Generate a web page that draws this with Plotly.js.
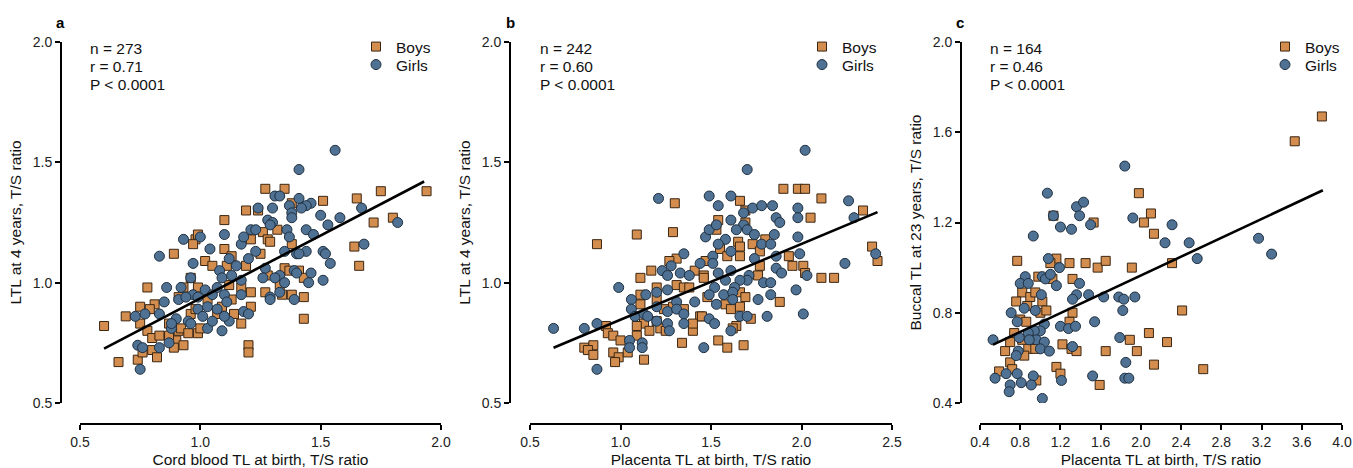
<!DOCTYPE html>
<html>
<head>
<meta charset="utf-8">
<script src="https://cdn.plot.ly/plotly-3.0.1.min.js"></script>
<style>html,body{margin:0;padding:0;background:#fff}#chart{width:1353px;height:468px}</style>
</head>
<body>
<div id="chart"></div>
<script>
// ---------- Panel a: Cord blood TL at birth vs LTL at 4 years ----------
const aBoysX = [0.60,0.66,0.69,0.74,0.75,0.75,0.78,0.81,0.79,0.78,0.80,0.80,0.82,0.76,0.83,0.89,0.90,0.93,0.91,0.87,0.92,0.95,0.99,1.00,0.96,0.98,0.91,0.93,0.96,0.98,0.99,0.97,1.10,1.02,1.05,1.07,1.10,1.11,1.13,1.12,1.13,1.14,1.17,1.19,1.24,1.27,1.19,1.21,1.26,1.21,1.21,1.20,1.20,1.27,1.28,0.87,0.99,1.03,1.09,1.17,0.89,
  1.35,1.38,1.51,1.65,1.75,1.94,1.80,1.72,1.32,1.29,1.38,1.25,1.64,1.66,1.35,1.37,1.41,1.43,1.28,1.33,1.34,1.38,1.43,1.43];
const aBoysY = [0.82,0.67,0.86,0.68,0.90,0.83,0.98,0.91,0.89,0.80,0.77,0.72,0.69,0.71,0.78,1.12,0.76,0.74,0.80,0.83,0.81,0.79,0.79,0.81,0.87,0.89,0.94,0.98,1.02,1.18,1.20,1.16,1.26,1.09,1.07,0.87,1.14,1.07,1.11,0.99,0.93,0.87,0.83,1.30,1.30,1.39,1.07,1.18,1.21,0.96,0.90,0.74,0.71,0.96,1.18,0.78,0.98,0.93,0.90,0.98,0.73,
  1.39,1.33,1.34,1.35,1.38,1.38,1.27,1.25,1.22,1.17,1.16,1.12,1.15,1.07,1.06,1.05,1.05,1.02,1.03,0.99,0.95,0.95,0.94,0.85];
const aGirlsX = [0.75,0.74,0.76,0.73,0.77,0.83,0.85,0.83,0.83,0.87,0.88,0.86,0.90,0.92,0.91,0.93,0.95,0.96,0.97,0.96,0.97,0.99,1.01,1.00,1.02,1.03,1.03,1.04,1.05,1.05,1.07,1.09,1.10,1.08,1.09,1.10,1.11,1.12,1.10,1.12,1.13,1.15,1.17,1.18,1.17,1.17,1.18,1.20,1.20,1.21,1.23,1.23,1.24,1.27,1.26,1.29,1.28,0.99,0.94,0.88,1.07,
  1.56,1.41,1.31,1.33,1.30,1.41,1.46,1.44,1.42,1.37,1.38,1.38,1.30,1.29,1.50,1.58,1.53,1.67,1.36,1.44,1.37,1.47,1.82,1.68,1.35,1.44,1.40,1.41,1.51,1.52,1.54,1.39,1.40,1.46,1.33,1.31,1.35,1.45,1.51,1.33,1.29,1.39];
const aGirlsY = [0.64,0.74,0.73,0.86,0.87,1.11,0.92,0.87,0.73,0.75,0.81,0.98,0.85,0.98,0.93,1.18,0.84,0.83,1.08,1.02,0.95,0.89,0.86,1.19,0.97,0.90,0.81,1.14,0.84,0.95,0.98,0.80,1.20,1.05,1.02,0.95,0.92,0.84,0.86,1.10,1.03,1.07,1.16,1.19,1.01,0.95,0.88,1.10,0.87,1.22,1.22,1.13,1.31,1.06,1.02,0.94,1.26,0.94,0.94,0.83,0.89,
  1.55,1.47,1.36,1.36,1.31,1.35,1.33,1.32,1.31,1.32,1.29,1.27,1.25,1.24,1.28,1.27,1.24,1.31,1.22,1.22,1.19,1.20,1.25,1.16,1.13,1.13,1.12,1.12,1.13,1.12,1.08,1.05,1.04,1.04,1.03,1.02,1.00,1.00,1.01,0.96,0.93,0.93];
const aFitX = [0.60, 1.93];
const aFitSlope = 0.522, aFitIntercept = 0.413;

// ---------- Panel b: Placenta TL at birth vs LTL at 4 years ----------
const bBoysX = [0.87,1.09,1.30,1.29,1.17,1.11,1.31,1.27,1.20,1.11,1.11,0.92,0.93,0.96,1.00,0.80,0.85,0.82,0.85,0.96,0.99,0.97,1.04,1.09,1.13,1.13,1.16,1.09,1.20,1.22,1.25,1.34,1.40,1.44,1.40,1.35,1.29,1.31,1.35,1.38,1.41,1.46,1.47,1.24,1.20,
  1.90,1.98,2.02,2.11,2.34,2.05,1.66,1.69,1.54,1.53,1.69,1.80,1.65,1.66,1.73,1.55,1.59,1.77,1.66,1.93,2.39,2.42,1.77,1.95,2.01,2.02,2.11,2.18,1.76,1.46,1.66,1.69,1.48,1.58,1.66,1.61,1.88,1.72,1.64,1.62,1.54,1.59,1.68,1.45];
const bBoysY = [1.16,1.20,1.33,1.21,1.05,1.02,1.10,1.09,0.98,0.95,0.91,0.82,0.79,0.78,0.76,0.73,0.74,0.72,0.70,0.71,0.69,0.67,0.71,0.78,0.68,0.83,0.80,0.82,0.84,0.81,0.80,0.75,0.80,0.86,0.83,0.89,0.90,0.99,0.98,0.98,1.05,1.03,1.09,0.89,0.93,
  1.39,1.39,1.39,1.35,1.30,1.27,1.34,1.30,1.26,1.22,1.25,1.18,1.17,1.15,1.16,1.14,1.11,1.13,1.11,1.11,1.15,1.09,1.07,1.07,1.07,1.04,1.02,1.02,1.03,1.02,0.96,0.94,0.94,0.91,0.90,0.89,0.92,0.85,0.82,0.81,0.76,0.73,0.74,0.86];
const bGirlsX = [0.63,0.80,0.87,0.87,0.99,1.05,1.05,1.12,1.12,1.06,1.06,1.08,1.14,1.13,1.15,1.20,1.20,1.20,1.21,1.23,1.26,1.26,1.27,1.26,1.26,1.28,1.31,1.31,1.33,1.35,1.35,1.35,1.38,1.41,1.44,1.46,1.47,1.49,1.49,1.49,
  2.02,1.70,1.61,1.54,1.73,1.78,1.84,1.68,1.98,1.98,2.26,2.29,1.86,1.88,1.61,1.68,1.53,1.64,1.70,1.74,1.58,1.54,1.85,1.98,1.78,1.83,1.61,1.99,1.86,2.41,1.51,1.51,1.74,2.24,1.86,1.89,2.03,1.71,1.70,1.61,1.54,1.58,1.66,1.79,1.83,1.52,1.63,1.49,1.57,1.62,1.62,1.53,1.83,1.76,1.97,1.66,1.70,1.81,2.01,1.52,1.61];
const bGirlsY = [0.81,0.81,0.83,0.64,0.98,0.76,0.73,0.75,0.73,0.93,0.89,0.86,0.95,0.87,0.86,0.84,0.96,0.90,1.35,1.05,0.88,0.83,0.80,0.97,1.03,1.07,0.92,0.89,1.04,1.12,0.87,0.83,1.03,0.92,1.08,0.73,1.19,1.22,1.36,0.85,
  1.55,1.47,1.36,1.32,1.31,1.32,1.32,1.29,1.31,1.27,1.34,1.27,1.27,1.25,1.26,1.24,1.24,1.22,1.22,1.20,1.18,1.16,1.20,1.19,1.16,1.16,1.13,1.12,1.11,1.12,1.11,1.08,1.10,1.08,1.06,1.04,1.03,1.03,1.01,1.05,1.04,1.01,1.01,1.00,1.00,0.98,0.98,0.95,0.95,0.96,0.93,0.91,0.95,0.93,0.97,0.86,0.86,0.86,0.87,0.83,0.80];
const bFitX = [0.63, 2.42];
const bFitSlope = 0.315, bFitIntercept = 0.531;

// ---------- Panel c: Placenta TL at birth vs Buccal TL at 23 years ----------
const cBoysX = [1.98,2.10,2.03,2.13,1.13,1.53,0.77,1.16,1.10,1.29,1.45,1.57,1.65,1.91,0.98,1.12,1.32,0.82,0.90,0.95,0.76,1.02,0.87,1.00,1.06,1.32,0.80,0.86,1.29,0.74,0.82,0.70,0.88,0.95,0.84,0.65,1.22,1.31,1.36,1.65,0.70,0.59,0.72,1.16,1.20,0.96,1.59,1.89,1.96,2.08,
  3.80,3.53,2.31,2.41,2.26,2.13,2.62];
const cBoysY = [1.33,1.24,1.20,1.15,1.23,1.20,1.03,1.04,1.02,1.02,1.02,1.00,1.03,1.00,0.96,0.95,0.95,0.89,0.87,0.89,0.85,0.85,0.83,0.80,0.81,0.80,0.77,0.76,0.76,0.71,0.68,0.67,0.64,0.64,0.61,0.63,0.66,0.64,0.63,0.63,0.58,0.54,0.55,0.56,0.53,0.50,0.48,0.68,0.63,0.71,
  1.67,1.56,1.02,0.81,0.67,0.57,0.55];
const cGirlsX = [1.84,1.07,1.36,1.43,1.13,1.39,1.92,1.20,1.31,1.50,0.93,1.08,1.19,0.85,1.02,1.05,1.10,0.80,0.88,1.16,1.39,1.01,1.36,1.48,1.63,1.78,1.83,1.94,1.32,0.95,0.84,0.71,1.82,0.77,1.04,1.20,1.28,1.35,1.54,1.00,0.94,0.88,0.79,0.53,0.96,1.04,0.89,1.79,1.32,1.00,0.78,1.09,0.76,1.85,0.77,0.66,0.55,0.93,0.91,0.70,0.81,0.69,1.02,1.21,1.52,1.84,1.88,
  2.31,2.24,2.48,2.56,3.17,3.30];
const cGirlsY = [1.45,1.33,1.27,1.29,1.23,1.23,1.22,1.18,1.17,1.19,1.14,1.04,1.00,0.96,0.96,0.95,0.97,0.93,0.93,0.92,0.93,0.88,0.88,0.88,0.87,0.87,0.86,0.87,0.86,0.81,0.82,0.80,0.81,0.76,0.75,0.74,0.73,0.74,0.76,0.72,0.72,0.71,0.69,0.68,0.68,0.67,0.68,0.69,0.65,0.64,0.63,0.63,0.61,0.58,0.53,0.53,0.51,0.52,0.48,0.48,0.49,0.45,0.42,0.50,0.52,0.51,0.51,
  1.19,1.11,1.11,1.04,1.13,1.06];
const cFitX = [0.53, 3.81];
const cFitSlope = 0.2086, cFitIntercept = 0.548;

const panelLetters = ['a','b','c'];
const statsLines = [
  ['n = 273','r = 0.71','P &lt; 0.0001'],
  ['n = 242','r = 0.60','P &lt; 0.0001'],
  ['n = 164','r = 0.46','P &lt; 0.0001']
];
const groupNames = ['Boys','Girls'];
const xTitles = ['Cord blood TL at birth, T/S ratio','Placenta TL at birth, T/S ratio','Placenta TL at birth, T/S ratio'];
const yTitles = ['LTL at 4 years, T/S ratio','LTL at 4 years, T/S ratio','Buccal TL at 23 years, T/S ratio'];

// ---------- styling / layout ----------
const W = 1353, H = 468;
const FONT = 'Liberation Sans, Arial, Helvetica, sans-serif';
const BOY_FILL = '#D38D4E', BOY_LINE = '#3b2612';
const GIRL_FILL = '#4F7294', GIRL_LINE = '#1f2f3f';

const panels = [
  {bx:aBoysX, by:aBoysY, gx:aGirlsX, gy:aGirlsY, fx:aFitX, m:aFitSlope, k:aFitIntercept,
   xDom:[80,441], xRange:[0.5,2.0], xDtick:0.5, yAxisPx:61, yRange:[0.5,2.0], yDtick:0.5, letterPx:60, statsPx:88, legendPx:356},
  {bx:bBoysX, by:bBoysY, gx:bGirlsX, gy:bGirlsY, fx:bFitX, m:bFitSlope, k:bFitIntercept,
   xDom:[530,892], xRange:[0.5,2.5], xDtick:0.5, yAxisPx:510, yRange:[0.5,2.0], yDtick:0.5, letterPx:510, statsPx:538, legendPx:802},
  {bx:cBoysX, by:cBoysY, gx:cGirlsX, gy:cGirlsY, fx:cFitX, m:cFitSlope, k:cFitIntercept,
   xDom:[980,1342], xRange:[0.4,4.0], xDtick:0.4, yAxisPx:961, yRange:[0.4,2.0], yDtick:0.4, letterPx:960, statsPx:988, legendPx:1265}
];
const yDomPx = [42, 403];   // top, bottom in pixels
const xAxisPx = 424;        // x axis line pixel row
const legendTopPx = [30, 48];
const statsTopPx = 38, statsStepPx = 18;

const traces = [];
const layout = {
  width: W, height: H,
  margin: {l:0, r:0, t:0, b:0},
  paper_bgcolor: '#fff', plot_bgcolor: 'rgba(0,0,0,0)',
  font: {family: FONT, size: 14, color: '#111'},
  annotations: [],
  showlegend: true
};

panels.forEach((p, i) => {
  const n = i === 0 ? '' : String(i + 1);
  const xa = 'x' + n, ya = 'y' + n;
  const lgB = i === 0 ? 'legend' : 'legend' + (2 * i + 1);
  const lgG = 'legend' + (2 * i + 2);
  traces.push({
    type:'scatter', mode:'markers', name:groupNames[0], x:p.bx, y:p.by, xaxis:xa, yaxis:ya, legend:lgB,
    marker:{symbol:'square', size:9, color:BOY_FILL, line:{color:BOY_LINE, width:1}}
  });
  traces.push({
    type:'scatter', mode:'markers', name:groupNames[1], x:p.gx, y:p.gy, xaxis:xa, yaxis:ya, legend:lgG,
    marker:{symbol:'circle', size:10, color:GIRL_FILL, line:{color:GIRL_LINE, width:1}}
  });
  traces.push({
    type:'scatter', mode:'lines', x:p.fx, y:p.fx.map(v => p.k + p.m * v), xaxis:xa, yaxis:ya,
    showlegend:false, line:{color:'#000', width:2.6}, hoverinfo:'skip'
  });
  const axCommon = {
    showline:true, linecolor:'#000', linewidth:2, ticks:'outside', ticklen:5, tickwidth:2, tickcolor:'#000',
    showgrid:false, zeroline:false, tickformat:'.1f', tickfont:{size:14, color:'#222', family:FONT}
  };
  layout['xaxis' + n] = Object.assign({}, axCommon, {
    domain:[p.xDom[0]/W, p.xDom[1]/W], range:p.xRange, dtick:p.xDtick, tick0:p.xRange[0],
    anchor:'free', position:(H - xAxisPx)/H,
    title:{text:xTitles[i], font:{size:15.5, family:FONT, color:'#111'}, standoff:8}
  });
  layout['yaxis' + n] = Object.assign({}, axCommon, {
    domain:[(H - yDomPx[1])/H, (H - yDomPx[0])/H], range:p.yRange, dtick:p.yDtick, tick0:p.yRange[0],
    anchor:'free', position:p.yAxisPx/W,
    title:{text:yTitles[i], font:{size:15.5, family:FONT, color:'#111'}, standoff:6}
  });
  [lgB, lgG].forEach((lg, j) => {
    layout[lg] = {
      x:p.legendPx/W, y:(H - legendTopPx[j])/H, xanchor:'left', yanchor:'top',
      bgcolor:'rgba(0,0,0,0)', borderwidth:0, font:{size:15.5, family:FONT, color:'#111'},
      itemclick:false, itemdoubleclick:false
    };
  });
  layout.annotations.push({
    xref:'paper', yref:'paper', x:p.letterPx/W, y:(H - 22)/H, xanchor:'center', yanchor:'middle',
    text:'<b>' + panelLetters[i] + '</b>', showarrow:false, font:{size:15, family:FONT, color:'#000'}
  });
  statsLines[i].forEach((t, j) => {
    layout.annotations.push({
      xref:'paper', yref:'paper', x:p.statsPx/W, y:(H - statsTopPx - j * statsStepPx)/H,
      xanchor:'left', yanchor:'top', align:'left',
      text:t, showarrow:false, font:{size:15.5, family:FONT, color:'#111'}
    });
  });
});

Plotly.newPlot('chart', traces, layout, {displayModeBar:false, staticPlot:true});
</script>
</body>
</html>
